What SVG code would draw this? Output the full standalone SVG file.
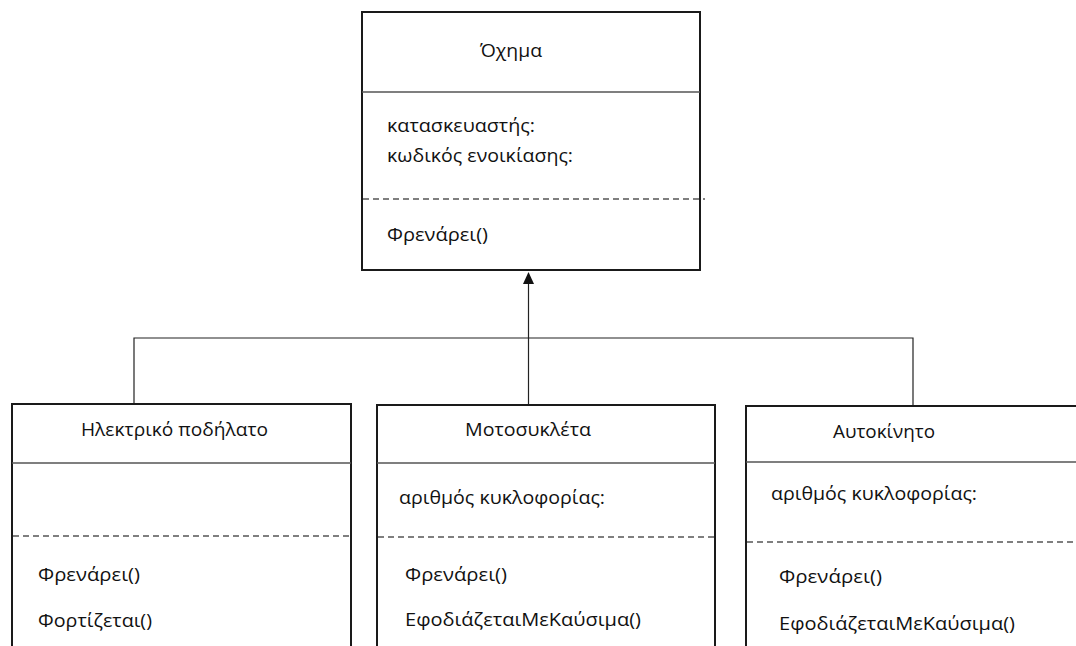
<svg xmlns="http://www.w3.org/2000/svg" width="1076" height="646" viewBox="0 0 1076 646">
<style>
.box{fill:#fff;stroke:#1a1a1a;stroke-width:2}
.div{stroke:#555;stroke-width:1.5;fill:none}
.dash{stroke:#555;stroke-width:1.5;stroke-dasharray:6,4;fill:none}
.t{font-family:"Open Sans","Noto Sans",sans-serif;font-size:19px;fill:#111}
.con{stroke:#222;stroke-width:1.2;fill:none}
</style>
<rect width="1076" height="646" fill="#fff"/>
<g id="connectors">
<polyline class="con" points="134,404 134,338 913,338 913,405"/>
<line class="con" x1="528.5" y1="405" x2="528.5" y2="284"/>
<path d="M523,284 L528.5,272 L534,284 Z" fill="#111"/>
</g>
<g id="oxima">
<rect class="box" x="362" y="12" width="338" height="258"/>
<line class="div" x1="362" y1="92" x2="700" y2="92"/>
<line class="dash" x1="363" y1="199" x2="705" y2="199"/>
<text class="t" x="480" y="57" textLength="62" lengthAdjust="spacingAndGlyphs">Όχημα</text>
<text class="t" x="387" y="132" textLength="148" lengthAdjust="spacingAndGlyphs">κατασκευαστής:</text>
<text class="t" x="387" y="162" textLength="186" lengthAdjust="spacingAndGlyphs">κωδικός ενοικίασης:</text>
<text class="t" x="387" y="241" textLength="101" lengthAdjust="spacingAndGlyphs">Φρενάρει()</text>
</g>
<g id="ilektriko">
<rect class="box" x="12" y="404" width="339" height="260"/>
<line class="div" x1="12" y1="463" x2="351" y2="463"/>
<line class="dash" x1="13" y1="536" x2="352" y2="536"/>
<text class="t" x="81" y="436" textLength="187" lengthAdjust="spacingAndGlyphs">Ηλεκτρικό ποδήλατο</text>
<text class="t" x="38" y="581" textLength="102" lengthAdjust="spacingAndGlyphs">Φρενάρει()</text>
<text class="t" x="38" y="627" textLength="114" lengthAdjust="spacingAndGlyphs">Φορτίζεται()</text>
</g>
<g id="motosykleta">
<rect class="box" x="377" y="405" width="338" height="260"/>
<line class="div" x1="377" y1="463" x2="715" y2="463"/>
<line class="dash" x1="378" y1="537" x2="718" y2="537"/>
<text class="t" x="465" y="436" textLength="126" lengthAdjust="spacingAndGlyphs">Μοτοσυκλέτα</text>
<text class="t" x="399" y="504" textLength="206" lengthAdjust="spacingAndGlyphs">αριθμός κυκλοφορίας:</text>
<text class="t" x="405" y="581" textLength="102" lengthAdjust="spacingAndGlyphs">Φρενάρει()</text>
<text class="t" x="405" y="626" textLength="236" lengthAdjust="spacingAndGlyphs">ΕφοδιάζεταιΜεΚαύσιμα()</text>
</g>
<g id="aftokinito">
<rect class="box" x="746" y="406" width="340" height="260"/>
<line class="div" x1="746" y1="462" x2="1076" y2="462"/>
<line class="dash" x1="747" y1="542" x2="1076" y2="542"/>
<text class="t" x="833" y="438" textLength="102" lengthAdjust="spacingAndGlyphs">Αυτοκίνητο</text>
<text class="t" x="771" y="500" textLength="206" lengthAdjust="spacingAndGlyphs">αριθμός κυκλοφορίας:</text>
<text class="t" x="779" y="583" textLength="103" lengthAdjust="spacingAndGlyphs">Φρενάρει()</text>
<text class="t" x="779" y="630" textLength="236" lengthAdjust="spacingAndGlyphs">ΕφοδιάζεταιΜεΚαύσιμα()</text>
</g>
</svg>
